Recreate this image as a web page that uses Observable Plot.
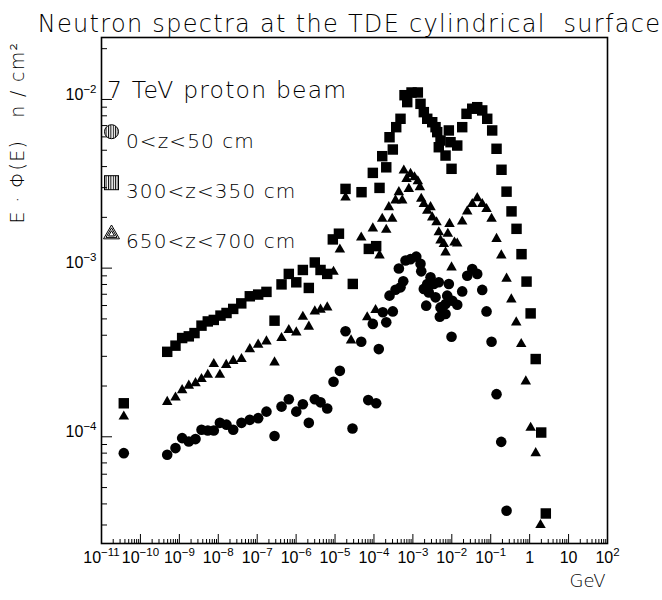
<!DOCTYPE html>
<html>
<head>
<meta charset="utf-8">
<script src="https://cdn.jsdelivr.net/npm/d3@7"></script>
<script src="https://cdn.jsdelivr.net/npm/@observablehq/plot@0.6"></script>
<style>
  html, body { margin: 0; padding: 0; background: #fff; }
  #chart svg { display: block; }
</style>
</head>
<body>
<div id="chart"></div>
<script>
// ---------- text ----------
const titleText = "Neutron spectra at the TDE cylindrical  surface";
const beamText = "7 TeV proton beam";
const seriesNames = ["0<z<50 cm", "300<z<350 cm", "650<z<700 cm"];
const yTitle = "E · Φ(E)   n / cm²";
const xTitle = "GeV";

// ---------- tick values ----------
const xTicks = [1e-11, 1e-10, 1e-9, 1e-8, 1e-7, 1e-6, 1e-5, 1e-4, 1e-3, 1e-2, 1e-1, 1, 10, 100];
const yTicks = [1e-4, 1e-3, 1e-2];

// ---------- series 0<z<50 cm (circles) ----------
const circleE = [3.74e-11, 4.88e-10, 7.96e-10, 1.18e-9, 1.75e-9, 2.60e-9, 3.71e-9, 5.38e-9, 7.67e-9, 1.10e-8,
  1.63e-8, 2.42e-8, 3.95e-8, 6.46e-8, 1.06e-7, 1.73e-7, 2.79e-7, 4.22e-7, 6.49e-7, 1.01e-6,
  1.49e-6, 2.12e-6, 3.02e-6, 4.24e-6, 6.30e-6, 9.14e-6, 1.33e-5, 1.86e-5, 2.81e-5, 4.71e-5,
  7.13e-5, 1.14e-4, 1.33e-4, 9.35e-5, 2.07e-4, 1.69e-4, 3.05e-4, 2.51e-4, 3.58e-4, 4.81e-4,
  5.65e-4, 4.36e-4, 6.47e-4, 8.69e-4, 1.22e-3, 1.57e-3, 1.64e-3, 1.91e-3, 2.34e-3, 2.84e-3,
  2.57e-3, 2.20e-3, 3.45e-3, 3.82e-3, 4.63e-3, 5.13e-3, 4.92e-3, 6.90e-3, 7.62e-3, 8.39e-3,
  6.90e-3, 1.03e-2, 1.38e-2, 9.84e-3, 1.85e-2, 2.49e-2, 3.35e-2, 4.50e-2, 6.05e-2, 7.80e-2,
  0.105, 0.141, 0.186, 0.255];
const circleF = [8.0e-5, 7.82e-5, 8.57e-5, 9.82e-5, 9.38e-5, 9.69e-5, 1.10e-4, 1.09e-4, 1.09e-4, 1.21e-4,
  1.18e-4, 1.10e-4, 1.21e-4, 1.26e-4, 1.29e-4, 1.41e-4, 1.01e-4, 1.51e-4, 1.67e-4, 1.41e-4,
  1.56e-4, 1.21e-4, 1.67e-4, 1.60e-4, 1.47e-4, 2.12e-4, 2.46e-4, 4.22e-4, 1.12e-4, 3.66e-4,
  1.65e-4, 1.58e-4, 3.31e-4, 4.67e-4, 4.77e-4, 5.47e-4, 5.54e-4, 6.87e-4, 7.45e-4, 7.69e-4,
  8.35e-4, 9.95e-4, 1.11e-3, 1.13e-3, 1.17e-3, 1.06e-3, 9.57e-4, 7.53e-4, 8.06e-4, 8.82e-4,
  7.18e-4, 5.99e-4, 8.06e-4, 6.71e-4, 8.24e-4, 5.85e-4, 5.15e-4, 5.35e-4, 6.87e-4, 8.06e-4,
  6.13e-4, 6.41e-4, 6.07e-4, 3.92e-4, 7.28e-4, 9.02e-4, 9.89e-4, 9.24e-4, 7.43e-4, 5.54e-4,
  3.66e-4, 1.79e-4, 9.33e-5, 3.64e-5];

// ---------- series 300<z<350 cm (squares) ----------
const squareE = [3.74e-11, 4.88e-10, 7.96e-10, 1.18e-9, 1.75e-9, 2.45e-9, 3.71e-9, 5.38e-9, 7.67e-9, 1.14e-8,
  1.63e-8, 2.42e-8, 3.90e-8, 6.46e-8, 1.06e-7, 1.73e-7, 2.79e-7, 4.22e-7, 6.49e-7, 1.01e-6,
  1.49e-6, 2.12e-6, 3.02e-6, 4.24e-6, 6.30e-6, 8.77e-6, 1.26e-5, 1.86e-5, 2.86e-5, 4.79e-5,
  7.38e-5, 1.14e-4, 9.35e-5, 1.39e-4, 2.07e-4, 1.63e-4, 3.05e-4, 2.51e-4, 3.73e-4, 4.81e-4,
  6.10e-4, 7.16e-4, 9.23e-4, 1.34e-3, 1.57e-3, 1.91e-3, 2.34e-3, 3.14e-3, 3.82e-3, 4.22e-3,
  5.13e-3, 4.63e-3, 6.90e-3, 8.39e-3, 9.27e-3, 1.38e-2, 9.84e-3, 1.85e-2, 2.39e-2, 3.35e-2,
  4.50e-2, 6.05e-2, 8.13e-2, 0.109, 0.141, 0.189, 0.255, 0.342, 0.460, 0.618,
  0.832, 1.06, 1.43, 1.98, 2.60];
const squareF = [1.58e-4, 3.19e-4, 3.47e-4, 3.85e-4, 3.94e-4, 4.12e-4, 4.56e-4, 4.83e-4, 4.93e-4, 5.23e-4,
  5.42e-4, 5.73e-4, 6.18e-4, 6.81e-4, 6.97e-4, 7.23e-4, 4.88e-4, 8.01e-4, 9.24e-4, 8.24e-4,
  9.75e-4, 7.63e-4, 1.08e-3, 9.75e-4, 9.24e-4, 1.48e-3, 1.60e-3, 2.95e-3, 8.06e-4, 2.82e-3,
  1.30e-3, 1.35e-3, 3.67e-3, 2.99e-3, 3.96e-3, 4.61e-3, 5.05e-3, 5.97e-3, 6.85e-3, 7.68e-3,
  1.06e-2, 9.64e-3, 1.10e-2, 1.10e-2, 9.42e-3, 8.41e-3, 7.68e-3, 7.33e-3, 6.85e-3, 6.40e-3,
  5.71e-3, 5.21e-3, 4.65e-3, 6.55e-3, 5.58e-3, 5.33e-3, 3.88e-3, 6.85e-3, 8.22e-3, 8.81e-3,
  9.00e-3, 8.61e-3, 7.68e-3, 6.55e-3, 5.10e-3, 3.83e-3, 2.84e-3, 2.17e-3, 1.71e-3, 1.21e-3,
  8.32e-4, 5.39e-4, 2.89e-4, 1.06e-4, 3.51e-5];

// ---------- series 650<z<700 cm (triangles) ----------
const triangleE = [3.74e-11, 4.88e-10, 7.96e-10, 1.18e-9, 1.75e-9, 2.60e-9, 3.71e-9, 5.38e-9, 7.67e-9, 1.10e-8,
  1.60e-8, 2.42e-8, 3.95e-8, 6.46e-8, 1.06e-7, 1.73e-7, 2.79e-7, 4.22e-7, 6.49e-7, 1.01e-6,
  1.49e-6, 2.12e-6, 3.02e-6, 4.24e-6, 6.30e-6, 9.14e-6, 1.33e-5, 1.86e-5, 2.58e-5, 4.71e-5,
  6.71e-5, 1.10e-4, 9.35e-5, 1.39e-4, 1.63e-4, 2.07e-4, 2.94e-4, 2.41e-4, 3.58e-4, 4.36e-4,
  5.32e-4, 5.85e-4, 6.87e-4, 7.87e-4, 8.69e-4, 1.10e-3, 1.34e-3, 1.51e-3, 1.64e-3, 1.91e-3,
  2.34e-3, 2.84e-3, 3.14e-3, 4.05e-3, 4.63e-3, 5.13e-3, 6.24e-3, 6.90e-3, 8.73e-3, 7.91e-3,
  1.17e-2, 1.38e-2, 9.84e-3, 1.85e-2, 2.49e-2, 3.35e-2, 4.50e-2, 6.05e-2, 7.80e-2, 0.105,
  0.141, 0.187, 0.255, 0.338, 0.452, 0.607, 0.796, 1.06, 1.43, 1.90];
const triangleF = [1.32e-4, 1.61e-4, 1.71e-4, 1.89e-4, 2.01e-4, 2.08e-4, 2.20e-4, 2.33e-4, 2.70e-4, 2.33e-4,
  2.67e-4, 2.82e-4, 2.89e-4, 3.31e-4, 3.52e-4, 3.68e-4, 2.76e-4, 3.85e-4, 4.30e-4, 4.16e-4,
  5.15e-4, 4.50e-4, 5.54e-4, 5.67e-4, 5.85e-4, 9.51e-4, 1.29e-3, 2.62e-3, 3.73e-4, 1.52e-3,
  5.11e-4, 5.65e-4, 1.72e-3, 1.19e-3, 1.96e-3, 1.69e-3, 1.96e-3, 2.30e-3, 2.52e-3, 2.82e-3,
  2.52e-3, 3.79e-3, 3.38e-3, 2.95e-3, 3.62e-3, 3.46e-3, 3.27e-3, 3.02e-3, 2.58e-3, 2.40e-3,
  2.19e-3, 2.30e-3, 2.00e-3, 1.87e-3, 1.63e-3, 1.46e-3, 1.39e-3, 1.24e-3, 1.83e-3, 1.60e-3,
  1.42e-3, 1.40e-3, 1.01e-3, 1.89e-3, 2.17e-3, 2.40e-3, 2.60e-3, 2.40e-3, 2.24e-3, 1.96e-3,
  1.49e-3, 1.19e-3, 8.66e-4, 6.53e-4, 4.77e-4, 3.55e-4, 2.13e-4, 1.13e-4, 8.0e-5, 3.0e-5];

// ---------- build tables ----------
const toRows = (E, F) => E.map((e, i) => ({E: e, F: F[i]}));
const circles = toRows(circleE, circleF);
const squares = toRows(squareE, squareF);
const triangles = toRows(triangleE, triangleF);

const xDomain = [1e-11, 1e2];
const yDomain = [2.33e-5, 2.33e-2];

const minorOf = (lo, hi) => {
  const out = [];
  for (let e = Math.floor(Math.log10(lo)); e <= Math.ceil(Math.log10(hi)); e++)
    for (let k = 2; k <= 9; k++) { const v = k * Math.pow(10, e); if (v > lo && v < hi) out.push(v); }
  return out;
};
const xMinor = minorOf(xDomain[0], xDomain[1]);
const yMinor = minorOf(yDomain[0], yDomain[1]);

// "10^−3" style; turned into a real superscript tspan after rendering
const fmtPow = v => {
  const e = Math.round(Math.log10(v));
  if (e === 0) return "1";
  if (e === 1) return "10";
  return "10^" + String(e).replace("-", "−");
};

const W = 662, H = 600, mL = 101, mR = 55, mT = 37, mB = 57;
const fw = W - mL - mR, fh = H - mT - mB;
const FONT = "'DejaVu Sans', sans-serif";
const TICKFONT = "'Liberation Sans', Arimo, sans-serif";
const TW = 200; // light weight (DejaVu Sans ExtraLight)

const chart = Plot.plot({
  width: W, height: H,
  marginLeft: mL, marginRight: mR, marginTop: mT, marginBottom: mB,
  style: {fontFamily: FONT, background: "#fff", color: "#000"},
  x: {type: "log", domain: xDomain},
  y: {type: "log", domain: yDomain},
  marks: [
    // inward ticks
    Plot.ruleX(xMinor, {insetTop: fh - 4, stroke: "#000", strokeWidth: 1}),
    Plot.ruleX(xTicks, {insetTop: fh - 9, stroke: "#000", strokeWidth: 1}),
    Plot.ruleY(yMinor, {insetRight: fw - 6, stroke: "#000", strokeWidth: 1}),
    Plot.ruleY(yTicks, {insetRight: fw - 11, stroke: "#000", strokeWidth: 1}),
    Plot.axisX({ticks: xTicks, tickSize: 0, tickPadding: 8, tickFormat: fmtPow, fontSize: 16, label: null, className: "tk"}),
    Plot.axisY({ticks: yTicks, tickSize: 0, tickPadding: 5, dy: -4.8, tickFormat: fmtPow, fontSize: 16, label: null, className: "tk"}),
    Plot.frame({stroke: "#000", strokeWidth: 1.6}),
    // data
    Plot.dot(circles, {x: "E", y: "F", symbol: "circle", r: 5.3, fill: "#000"}),
    Plot.dot(squares, {x: "E", y: "F", symbol: "square", r: 5.9, fill: "#000"}),
    Plot.dot(triangles, {x: "E", y: "F", symbol: "triangle", r: 3.9, fill: "#000"}),
    // texts
    Plot.text([titleText], {frameAnchor: "top", dx: -5, dy: -22.4, fontSize: 24, fontWeight: TW, fill: "#000", className: "ttl"}),
    Plot.text([beamText], {frameAnchor: "top-left", dx: 5.5, dy: 44, textAnchor: "start", fontSize: 23.5, fontWeight: TW, fill: "#000", className: "beam"}),
    Plot.text([seriesNames[0]], {frameAnchor: "top-left", dx: 24.5, dy: 96.6, textAnchor: "start", fontSize: 20, fontWeight: TW, fill: "#000", className: "leg"}),
    Plot.text([seriesNames[1]], {frameAnchor: "top-left", dx: 24.5, dy: 146.6, textAnchor: "start", fontSize: 20, fontWeight: TW, fill: "#000", className: "leg"}),
    Plot.text([seriesNames[2]], {frameAnchor: "top-left", dx: 24.5, dy: 196.6, textAnchor: "start", fontSize: 20, fontWeight: TW, fill: "#000", className: "leg"}),
    Plot.text([yTitle], {frameAnchor: "top-left", dx: -91, dy: 4, rotate: -90, textAnchor: "end", fontSize: 19, fontWeight: TW, fill: "#000", className: "ytl"}),
    Plot.text([xTitle], {frameAnchor: "bottom-right", dx: -2, dy: 43.6, textAnchor: "end", fontSize: 18, fontWeight: TW, fill: "#000"})
  ]
});

document.getElementById("chart").appendChild(chart);

const svg = d3.select(chart);
// letter spacing to mimic the wide original lettering
svg.selectAll(".ttl text").style("letter-spacing", "1.3px");
svg.selectAll(".beam text").style("letter-spacing", "1.2px");
svg.selectAll(".leg text").style("letter-spacing", "1.1px");
svg.selectAll(".ytl text").style("letter-spacing", "1.3px");

// tick labels: Helvetica-like face and real superscript exponents
svg.selectAll("g[aria-label$='tick label']").attr("font-family", TICKFONT);
svg.selectAll("g[aria-label$='tick label'] text").each(function() {
  const t = d3.select(this);
  const s = t.text();
  const k = s.indexOf("^");
  if (k < 0) return;
  t.text(s.slice(0, k));
  t.append("tspan").attr("dy", -7).attr("font-size", 11.5).text(s.slice(k + 1));
});

// ---------- legend symbols (hatched, like the original) ----------
const defs = svg.append("defs");
defs.append("pattern").attr("id", "vhatch").attr("patternUnits", "userSpaceOnUse")
  .attr("width", 2.4).attr("height", 4)
  .append("rect").attr("width", 1).attr("height", 4).attr("fill", "#000");
const lg = svg.append("g").attr("stroke", "#000").attr("stroke-width", 1);
const sx = mL + 10.5;
lg.append("circle").attr("cx", sx).attr("cy", mT + 94.7).attr("r", 7).attr("fill", "url(#vhatch)");
lg.append("rect").attr("x", sx - 7).attr("y", mT + 145.7 - 7).attr("width", 14).attr("height", 14).attr("fill", "url(#vhatch)");
[8, 5.5, 3].forEach(s => {
  const cy = mT + 195.7 + 1.5;
  lg.append("path").attr("fill", "none")
    .attr("d", `M${sx - s},${cy + s * 0.58}L${sx + s},${cy + s * 0.58}L${sx},${cy - s * 1.15}Z`);
});
</script>
</body>
</html>
